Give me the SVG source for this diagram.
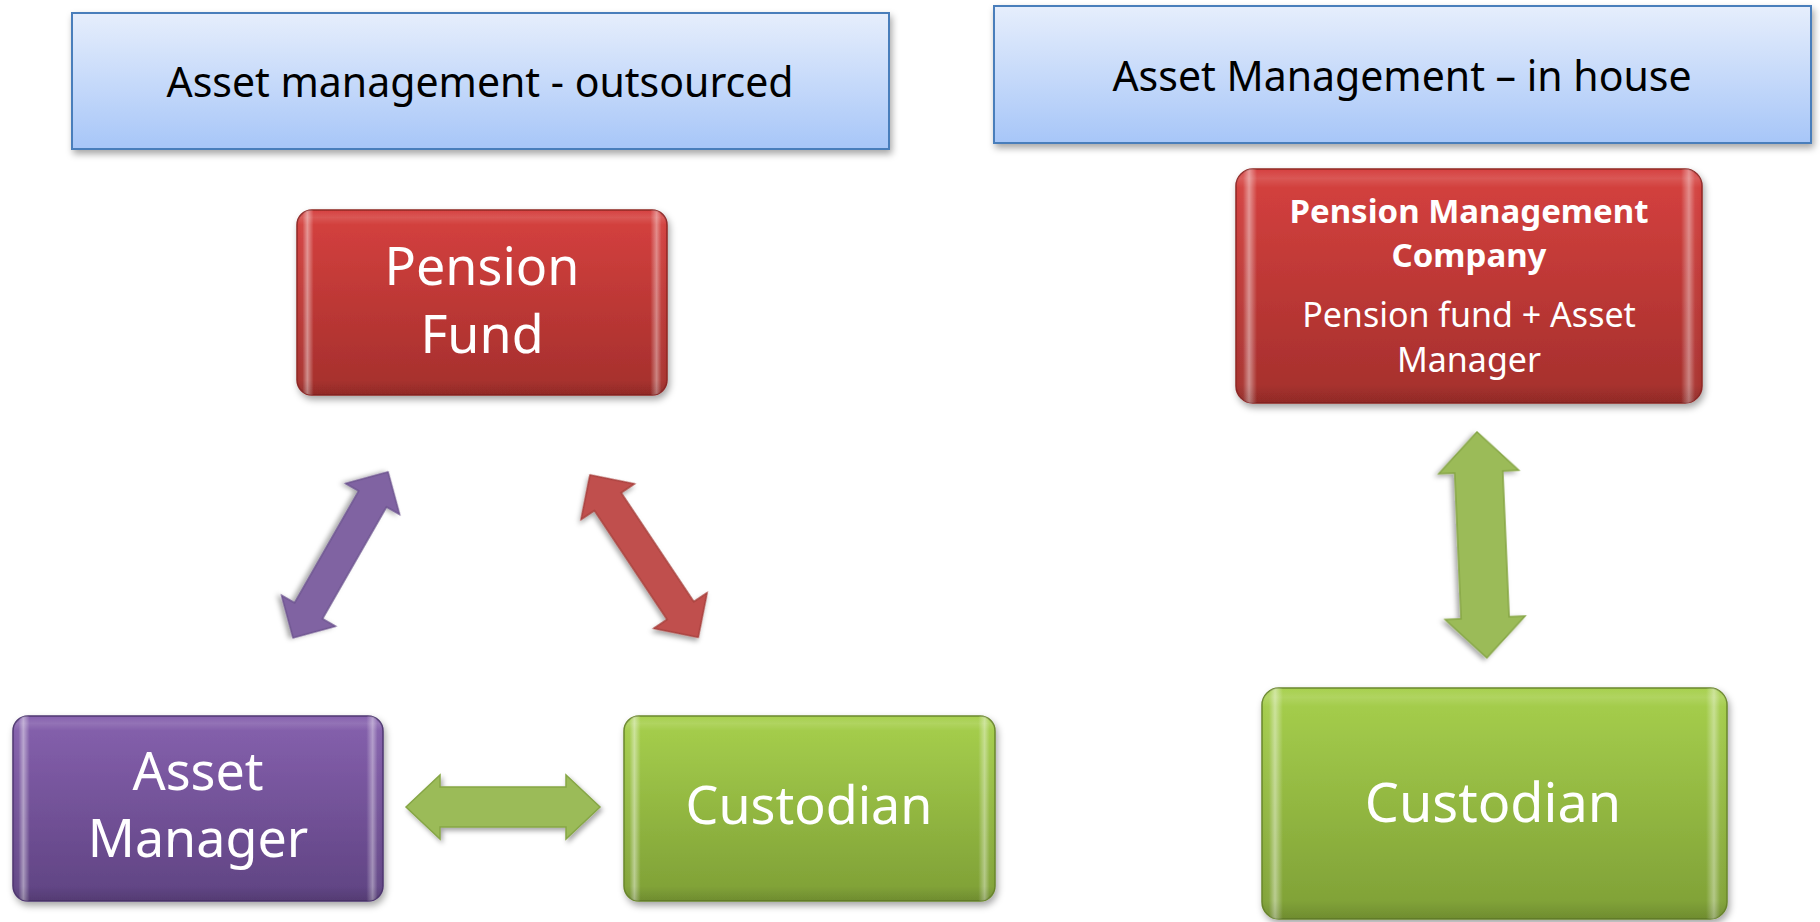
<svg xmlns="http://www.w3.org/2000/svg" width="1820" height="922" viewBox="0 0 1820 922">
<defs>
<linearGradient id="gHead" x1="0" y1="0" x2="0" y2="1"><stop offset="0" stop-color="#E6EEFC"/><stop offset="1" stop-color="#A7C6F8"/></linearGradient>
<linearGradient id="gRed" x1="0" y1="0" x2="0" y2="1"><stop offset="0" stop-color="#D6413F"/><stop offset="1" stop-color="#A42F2C"/></linearGradient>
<linearGradient id="gPur" x1="0" y1="0" x2="0" y2="1"><stop offset="0" stop-color="#8661AE"/><stop offset="1" stop-color="#5F4382"/></linearGradient>
<linearGradient id="gGrn" x1="0" y1="0" x2="0" y2="1"><stop offset="0" stop-color="#A7D04D"/><stop offset="1" stop-color="#7E9F36"/></linearGradient>
<linearGradient id="gBevel" x1="0" y1="0" x2="1" y2="0">
<stop offset="0" stop-color="#fff" stop-opacity="0"/>
<stop offset="0.015" stop-color="#fff" stop-opacity="0.05"/>
<stop offset="0.028" stop-color="#fff" stop-opacity="0.45"/>
<stop offset="0.045" stop-color="#fff" stop-opacity="0"/>
<stop offset="0.955" stop-color="#fff" stop-opacity="0"/>
<stop offset="0.972" stop-color="#fff" stop-opacity="0.4"/>
<stop offset="0.985" stop-color="#fff" stop-opacity="0.05"/>
<stop offset="1" stop-color="#fff" stop-opacity="0"/>
</linearGradient>
<linearGradient id="gBevelV" x1="0" y1="0" x2="0" y2="1">
<stop offset="0" stop-color="#fff" stop-opacity="0"/>
<stop offset="0.04" stop-color="#fff" stop-opacity="0.12"/>
<stop offset="0.08" stop-color="#fff" stop-opacity="0"/>
<stop offset="0.92" stop-color="#000" stop-opacity="0"/>
<stop offset="1" stop-color="#000" stop-opacity="0.12"/>
</linearGradient>
<filter id="sh" x="-10%" y="-10%" width="120%" height="130%"><feDropShadow dx="2" dy="4" stdDeviation="3.5" flood-color="#000" flood-opacity="0.35"/></filter>
<filter id="shA" x="-20%" y="-20%" width="140%" height="140%"><feDropShadow dx="2" dy="3" stdDeviation="2.5" flood-color="#000" flood-opacity="0.35"/></filter>
</defs>
<style>
.hdr{fill:url(#gHead);stroke:#4A7EBB;stroke-width:2;filter:url(#sh)}
.ht{font-family:"Noto Sans","Open Sans",sans-serif;font-size:41px;fill:#000;text-anchor:middle}
.bx{filter:url(#sh)}
.bev{fill:url(#gBevel)}
.bevv{fill:url(#gBevelV)}
.lbl{font-family:"Noto Sans","Open Sans",sans-serif;font-size:52px;fill:#fff;text-anchor:middle}
.sm{font-family:"Noto Sans","Open Sans",sans-serif;font-size:34px;fill:#fff;text-anchor:middle}
.smb{font-family:"Noto Sans","Open Sans",sans-serif;font-size:33px;font-weight:bold;fill:#fff;text-anchor:middle}
.arr{filter:url(#shA);stroke-width:1.5;stroke-linejoin:miter}
</style>
<rect width="1820" height="922" fill="#fff"/>

<g id="header-outsourced">
<rect class="hdr" x="72" y="13" width="817" height="136"/>
<text class="ht" x="480" y="97">Asset management - outsourced</text>
</g>
<g id="header-inhouse">
<rect class="hdr" x="994" y="6" width="817" height="137"/>
<text class="ht" x="1402" y="91">Asset Management – in house</text>
</g>

<g id="pension-fund">
<rect class="bx" x="297" y="210" width="370" height="185" rx="15" fill="url(#gRed)" stroke="#8E2725" stroke-width="1.5"/>
<rect class="bev" x="297" y="210" width="370" height="185" rx="15"/>
<rect class="bevv" x="297" y="210" width="370" height="185" rx="15"/>
<text class="lbl" x="482" y="285">Pension</text>
<text class="lbl" x="482" y="353">Fund</text>
</g>

<g id="pension-management-company">
<rect class="bx" x="1236" y="169" width="466" height="234" rx="17" fill="url(#gRed)" stroke="#8E2725" stroke-width="1.5"/>
<rect class="bev" x="1236" y="169" width="466" height="234" rx="17"/>
<rect class="bevv" x="1236" y="169" width="466" height="234" rx="17"/>
<text class="smb" x="1469" y="223">Pension Management</text>
<text class="smb" x="1469" y="267">Company</text>
<text class="sm" x="1469" y="327">Pension fund + Asset</text>
<text class="sm" x="1469" y="372">Manager</text>
</g>

<g id="asset-manager">
<rect class="bx" x="13" y="716" width="370" height="185" rx="15" fill="url(#gPur)" stroke="#4E3670" stroke-width="1.5"/>
<rect class="bev" x="13" y="716" width="370" height="185" rx="15"/>
<rect class="bevv" x="13" y="716" width="370" height="185" rx="15"/>
<text class="lbl" x="198" y="790">Asset</text>
<text class="lbl" x="198" y="857">Manager</text>
</g>

<g id="custodian-left">
<rect class="bx" x="624" y="716" width="371" height="185" rx="15" fill="url(#gGrn)" stroke="#6A872C" stroke-width="1.5"/>
<rect class="bev" x="624" y="716" width="371" height="185" rx="15"/>
<rect class="bevv" x="624" y="716" width="371" height="185" rx="15"/>
<text class="lbl" x="809" y="824">Custodian</text>
</g>

<g id="custodian-right">
<rect class="bx" x="1262" y="688" width="465" height="231" rx="17" fill="url(#gGrn)" stroke="#6A872C" stroke-width="1.5"/>
<rect class="bev" x="1262" y="688" width="465" height="231" rx="17"/>
<rect class="bevv" x="1262" y="688" width="465" height="231" rx="17"/>
<text class="lbl" x="1493" y="822" style="font-size:54px">Custodian</text>
</g>

<g id="connectors">
<path class="arr" transform="translate(388,472) rotate(119.8)" fill="#8064A2" stroke="#6E5490" d="M0,0 L31,-31 L31,-16 L160,-16 L160,-31 L191,0 L160,31 L160,16 L31,16 L31,31 Z"/>
<path class="arr" transform="translate(590,475) rotate(56.3)" fill="#C0504D" stroke="#A8403D" d="M0,0 L32,-32 L32,-16 L163,-16 L163,-32 L195,0 L163,32 L163,16 L32,16 L32,32 Z"/>
<path class="arr" transform="translate(406,807)" fill="#9BBB59" stroke="#86A646" d="M0,0 L34,-32 L34,-20 L160,-20 L160,-32 L194,0 L160,32 L160,20 L34,20 L34,32 Z"/>
<path class="arr" transform="translate(1477,432) rotate(87.5)" fill="#9BBB59" stroke="#86A646" d="M0,0 L40,-40 L40,-24 L186,-24 L186,-40 L226,0 L186,40 L186,24 L40,24 L40,40 Z"/>
</g>
</svg>
